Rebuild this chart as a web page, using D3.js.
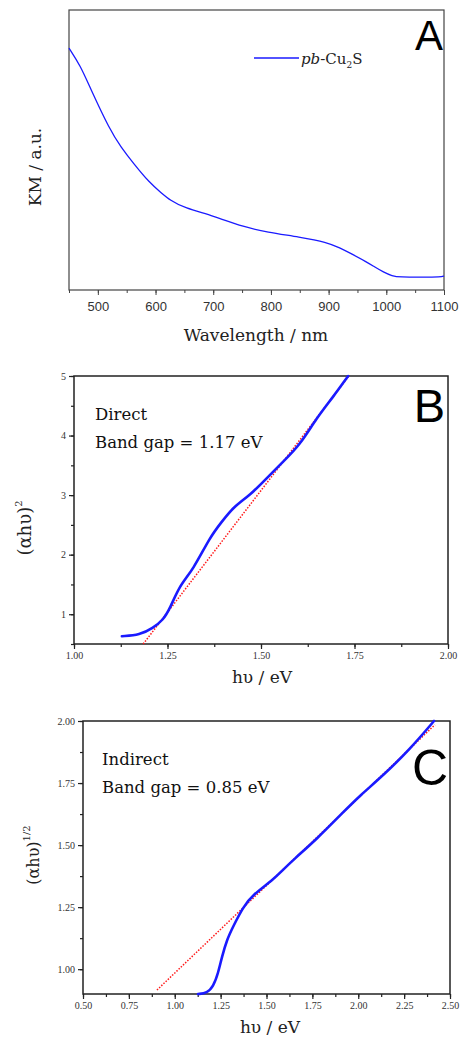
<!DOCTYPE html>
<html>
<head>
<meta charset="utf-8">
<script src="https://cdn.jsdelivr.net/npm/d3@7"></script>
<style>
  body { margin: 0; background: #fff; }
  svg { display: block; }
</style>
</head>
<body>
<div id="chart"></div>
<script>
// panel A: Kubelka-Munk spectrum
const waveA = [450, 470, 486, 521, 540, 561, 590, 610, 625, 650, 700, 752, 793, 850, 897, 920, 937, 966, 980, 995, 1010, 1024, 1060, 1095, 1100];
const kmA = [0.864, 0.80, 0.725, 0.571, 0.511, 0.454, 0.382, 0.347, 0.321, 0.293, 0.265, 0.225, 0.207, 0.189, 0.171, 0.15, 0.132, 0.100, 0.082, 0.064, 0.05, 0.046, 0.046, 0.046, 0.05];
const waveTicksA = [500, 600, 700, 800, 900, 1000, 1100];

// panel B: direct gap
const hvB = [1.128, 1.176, 1.211, 1.238, 1.257, 1.283, 1.318, 1.364, 1.395, 1.426, 1.471, 1.516, 1.559, 1.604, 1.649, 1.693, 1.733];
const yB = [0.63, 0.65, 0.77, 0.90, 1.10, 1.49, 1.74, 2.30, 2.55, 2.80, 3.0, 3.29, 3.56, 3.84, 4.30, 4.65, 5.0];
const fitB = [[1.185, 0.5], [1.735, 5.0]];

// panel C: indirect gap
const hvC = [1.127, 1.176, 1.21, 1.237, 1.257, 1.285, 1.317, 1.372, 1.426, 1.535, 1.59, 1.645, 1.775, 1.917, 2.01, 2.135, 2.28, 2.413];
const yC = [0.9, 0.904, 0.93, 0.985, 1.05, 1.12, 1.17, 1.25, 1.30, 1.36, 1.40, 1.44, 1.525, 1.632, 1.70, 1.78, 1.885, 2.0];
const fitC = [[0.903, 0.916], [2.418, 1.985]];

const W = 460, H = 1038;
const serif = "DejaVu Serif";
const blue = "#1a1aff", red = "#ff1a1a";

const svg = d3.select("#chart").append("svg")
  .attr("width", W).attr("height", H);

// ---------- A ----------
const xA = d3.scaleLinear().domain([450, 1100]).range([69, 444]);
const yA = d3.scaleLinear().domain([0, 1]).range([290, 10]);
const gA = svg.append("g");

gA.append("rect")
  .attr("x", xA(450)).attr("y", yA(1))
  .attr("width", xA(1100) - xA(450)).attr("height", yA(0) - yA(1))
  .attr("fill", "none").attr("stroke", "#444").attr("stroke-width", 1.2);

gA.append("g")
  .attr("transform", `translate(0,${yA(0)})`)
  .call(d3.axisBottom(xA).tickValues(d3.range(450, 1101, 50)).tickSize(3).tickFormat(""))
  .call(g => g.select(".domain").remove())
  .selectAll("line").attr("stroke", "#444");

gA.append("g")
  .attr("transform", `translate(0,${yA(0)})`)
  .call(d3.axisBottom(xA).tickValues(waveTicksA).tickSize(5).tickPadding(7).tickFormat(d3.format("d")))
  .call(g => g.select(".domain").remove())
  .call(g => g.selectAll("line").attr("stroke", "#444"))
  .selectAll("text")
  .attr("font-family", "Liberation Sans").attr("font-size", 13).attr("fill", "#333");

const ptsA = waveA.map((w, i) => [w, kmA[i]]);
gA.append("path")
  .datum(ptsA)
  .attr("fill", "none").attr("stroke", blue).attr("stroke-width", 1.3)
  .attr("d", d3.line().x(d => xA(d[0])).y(d => yA(d[1])).curve(d3.curveBasis));

gA.append("line")
  .attr("x1", 254).attr("x2", 299).attr("y1", 58).attr("y2", 58)
  .attr("stroke", blue).attr("stroke-width", 1.3);
const leg = gA.append("text").attr("x", 301).attr("y", 64)
  .attr("font-family", serif).attr("font-size", 15).attr("fill", "#222");
leg.append("tspan").attr("font-style", "italic").text("pb");
leg.append("tspan").text("-Cu");
leg.append("tspan").attr("font-size", 9).attr("dy", 4).text("2");
leg.append("tspan").attr("dy", -4).text("S");

gA.append("text").attr("x", 443).attr("y", 50).attr("text-anchor", "end")
  .attr("font-family", "Liberation Sans").attr("font-size", 42).text("A");

gA.append("text").attr("x", 256).attr("y", 341).attr("text-anchor", "middle")
  .attr("font-family", serif).attr("font-size", 17).attr("fill", "#222")
  .text("Wavelength / nm");
gA.append("text").attr("transform", "translate(41,167) rotate(-90)")
  .attr("text-anchor", "middle")
  .attr("font-family", serif).attr("font-size", 17).attr("fill", "#222")
  .text("KM / a.u.");

// ---------- shared for B and C ----------
function gapPanel(opt) {
  const g = svg.append("g");
  const x = d3.scaleLinear().domain(opt.xDom).range(opt.xRange);
  const y = d3.scaleLinear().domain(opt.yDom).range(opt.yRange);

  g.append("rect")
    .attr("x", opt.xRange[0]).attr("y", opt.yRange[1])
    .attr("width", opt.xRange[1] - opt.xRange[0]).attr("height", opt.yRange[0] - opt.yRange[1])
    .attr("fill", "none").attr("stroke", "#222").attr("stroke-width", 1.5);

  const styleTicks = sel => sel
    .call(s => s.select(".domain").remove())
    .call(s => s.selectAll("line").attr("stroke", "#222").attr("stroke-width", 1.2))
    .call(s => s.selectAll("text").attr("font-family", "Liberation Serif")
      .attr("font-size", 10).attr("fill", "#333"));

  g.append("g").attr("transform", `translate(0,${opt.yRange[0]})`)
    .call(d3.axisBottom(x).tickValues(opt.xMinor).tickSize(3).tickFormat(""))
    .call(styleTicks);
  g.append("g").attr("transform", `translate(0,${opt.yRange[0]})`)
    .call(d3.axisBottom(x).tickValues(opt.xTicks).tickSize(5).tickPadding(3).tickFormat(opt.xFmt))
    .call(styleTicks);
  g.append("g").attr("transform", `translate(${opt.xRange[0]},0)`)
    .call(d3.axisLeft(y).tickValues(opt.yMinor).tickSize(3).tickFormat(""))
    .call(styleTicks);
  g.append("g").attr("transform", `translate(${opt.xRange[0]},0)`)
    .call(d3.axisLeft(y).tickValues(opt.yTicks).tickSize(5).tickPadding(3).tickFormat(opt.yFmt))
    .call(styleTicks);

  const line = d3.line().x(d => x(d[0])).y(d => y(d[1]));
  g.append("path").datum(opt.fit)
    .attr("fill", "none").attr("stroke", red).attr("stroke-width", 1.5)
    .attr("stroke-dasharray", "1.5,1.5")
    .attr("d", line);
  g.append("path").datum(opt.hv.map((v, i) => [v, opt.vals[i]]))
    .attr("fill", "none").attr("stroke", blue).attr("stroke-width", 2.6)
    .attr("stroke-linejoin", "round").attr("stroke-linecap", "round")
    .attr("d", line.curve(d3.curveBasis));

  g.append("text").attr("x", opt.textX).attr("y", opt.textY)
    .attr("font-family", serif).attr("font-size", 16.5).attr("fill", "#111")
    .text(opt.kind);
  g.append("text").attr("x", opt.textX).attr("y", opt.textY + 28)
    .attr("font-family", serif).attr("font-size", 16.5).attr("fill", "#111")
    .text(opt.gap);

  g.append("text").attr("x", opt.letterX).attr("y", opt.letterY).attr("text-anchor", "end")
    .attr("font-family", "Liberation Sans").attr("font-size", opt.letterSize).text(opt.letter);

  g.append("text").attr("x", opt.xLabelX).attr("y", opt.xLabelY).attr("text-anchor", "middle")
    .attr("font-family", serif).attr("font-size", 17).attr("fill", "#222")
    .text("h\u03c5 / eV");

  const yl = g.append("text")
    .attr("transform", `translate(${opt.yLabelX},${opt.yLabelY}) rotate(-90)`)
    .attr("text-anchor", "middle")
    .attr("font-family", serif).attr("font-size", opt.yLabelSize).attr("fill", "#222");
  yl.append("tspan").text("(\u03b1h\u03c5)");
  yl.append("tspan").attr("font-size", 10).attr("dy", -9).text(opt.power);
}

gapPanel({
  xDom: [1, 2], xRange: [74, 448],
  yDom: [0.5, 5], yRange: [644, 376],
  xTicks: [1, 1.25, 1.5, 1.75, 2], xMinor: d3.range(1, 2.01, 0.125),
  yTicks: [1, 2, 3, 4, 5], yMinor: d3.range(0.5, 5.01, 0.5),
  xFmt: d3.format(".2f"), yFmt: d3.format("d"),
  hv: hvB, vals: yB, fit: fitB,
  kind: "Direct", gap: "Band gap = 1.17 eV", textX: 95, textY: 420,
  letter: "B", letterX: 445, letterY: 422, letterSize: 47,
  xLabelX: 262, xLabelY: 683,
  yLabelX: 31, yLabelY: 528, yLabelSize: 18, power: "2"
});

gapPanel({
  xDom: [0.5, 2.5], xRange: [83, 450],
  yDom: [0.9, 2.0], yRange: [994, 721],
  xTicks: d3.range(0.5, 2.51, 0.25), xMinor: d3.range(0.5, 2.51, 0.125),
  yTicks: [1, 1.25, 1.5, 1.75, 2], yMinor: d3.range(1, 2.01, 0.125),
  xFmt: d3.format(".2f"), yFmt: d3.format(".2f"),
  hv: hvC, vals: yC, fit: fitC,
  kind: "Indirect", gap: "Band gap = 0.85 eV", textX: 102, textY: 765,
  letter: "C", letterX: 448, letterY: 785, letterSize: 50,
  xLabelX: 270, xLabelY: 1033,
  yLabelX: 39, yLabelY: 855, yLabelSize: 16, power: "1/2"
});
</script>
</body>
</html>
